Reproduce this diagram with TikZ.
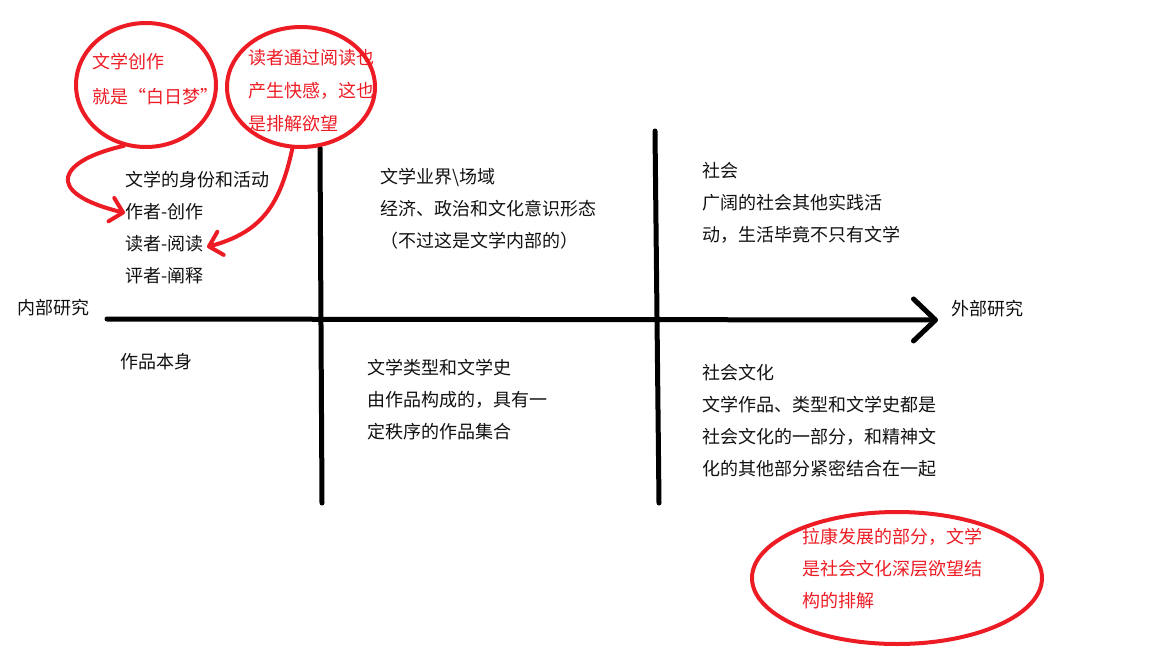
\documentclass[tikz,border=0pt]{standalone}
\usepackage{fontspec}
\newfontfamily\cjk{Noto Sans CJK SC}
\usetikzlibrary{arrows.meta,shapes.geometric}
\definecolor{pred}{HTML}{ED1C24}
\definecolor{ink}{HTML}{111111}
\tikzset{
  txt/.style={font=\cjk\fontsize{9}{16}\selectfont, text=ink, inner sep=0pt, anchor=west, align=left},
  rtxt/.style={txt, text=pred},
  axisline/.style={draw=black, line width=2.5pt, line cap=round, line join=round},
  ring/.style={draw=pred, line width=2pt, ellipse, inner sep=0pt},
  redarrow/.style={draw=pred, line width=2pt, line cap=round, line join=round,
    -{Straight Barb[length=6pt,width=12pt,line cap=round,line join=round]}},
}
\begin{document}
\begin{tikzpicture}[x=0.5pt,y=-0.5pt]
\useasboundingbox (0,0) rectangle (1152,648);
% axes
\coordinate (h0) at (107,319);
\coordinate (h1) at (938,320);
\coordinate (v1a) at (320,148);
\coordinate (v1b) at (322,503);
\coordinate (v2a) at (655,131);
\coordinate (v2b) at (659,503);
\draw[axisline] (v1a) -- (v1b);
\draw[axisline] (v2a) -- (v2b);
\draw[axisline, -{Straight Barb[length=11pt,width=21pt,line cap=round,line join=round]}] (h0) -- (h1);
% black texts
\node[txt] (inner) at (17,308) {内部研究};
\node[txt] (outer) at (951,309) {外部研究};
\node[txt] (q1) at (125,228) {文学的身份和活动\\作者-创作\\读者-阅读\\评者-阐释};
\node[txt] (work) at (120,362) {作品本身};
\node[txt] (q2) at (380,209) {文学业界\textbackslash 场域\\经济、政治和文化意识形态\\（不过这是文学内部的）};
\node[txt] (q3) at (702,203) {社会\\广阔的社会其他实践活\\动，生活毕竟不只有文学};
\node[txt] (q4) at (367,400) {文学类型和文学史\\由作品构成的，具有一\\定秩序的作品集合};
\node[txt] (q5) at (702,420.5) {社会文化\\文学作品、类型和文学史都是\\社会文化的一部分，和精神文\\化的其他部分紧密结合在一起};
% red circles
\node[ring, minimum width=70pt, minimum height=62pt] (c1) at (146,85) {};
\node[ring, minimum width=74pt, minimum height=60pt] (c2) at (301,87) {};
\node[ring, minimum width=145pt, minimum height=66pt] (c3) at (897,578) {};
\node[rtxt, font=\cjk\fontsize{9}{17.5}\selectfont] (r1) at (92,79.5) {文学创作\\就是“白日梦”};
\node[rtxt, font=\cjk\fontsize{9}{16.5}\selectfont] (r2) at (248,91) {读者通过阅读也\\产生快感，这也\\是排解欲望};
\node[rtxt] (r3) at (802,569) {拉康发展的部分，文学\\是社会文化深层欲望结\\构的排解};
% red arrows
\coordinate (tip1) at (125,213);
\coordinate (tip2) at (207,247);
\draw[redarrow] (c1.250) .. controls (60,160) and (40,192) .. (tip1);
\draw[redarrow] (c2.262) .. controls (280,205) and (262,232) .. (tip2);
\end{tikzpicture}
\end{document}
